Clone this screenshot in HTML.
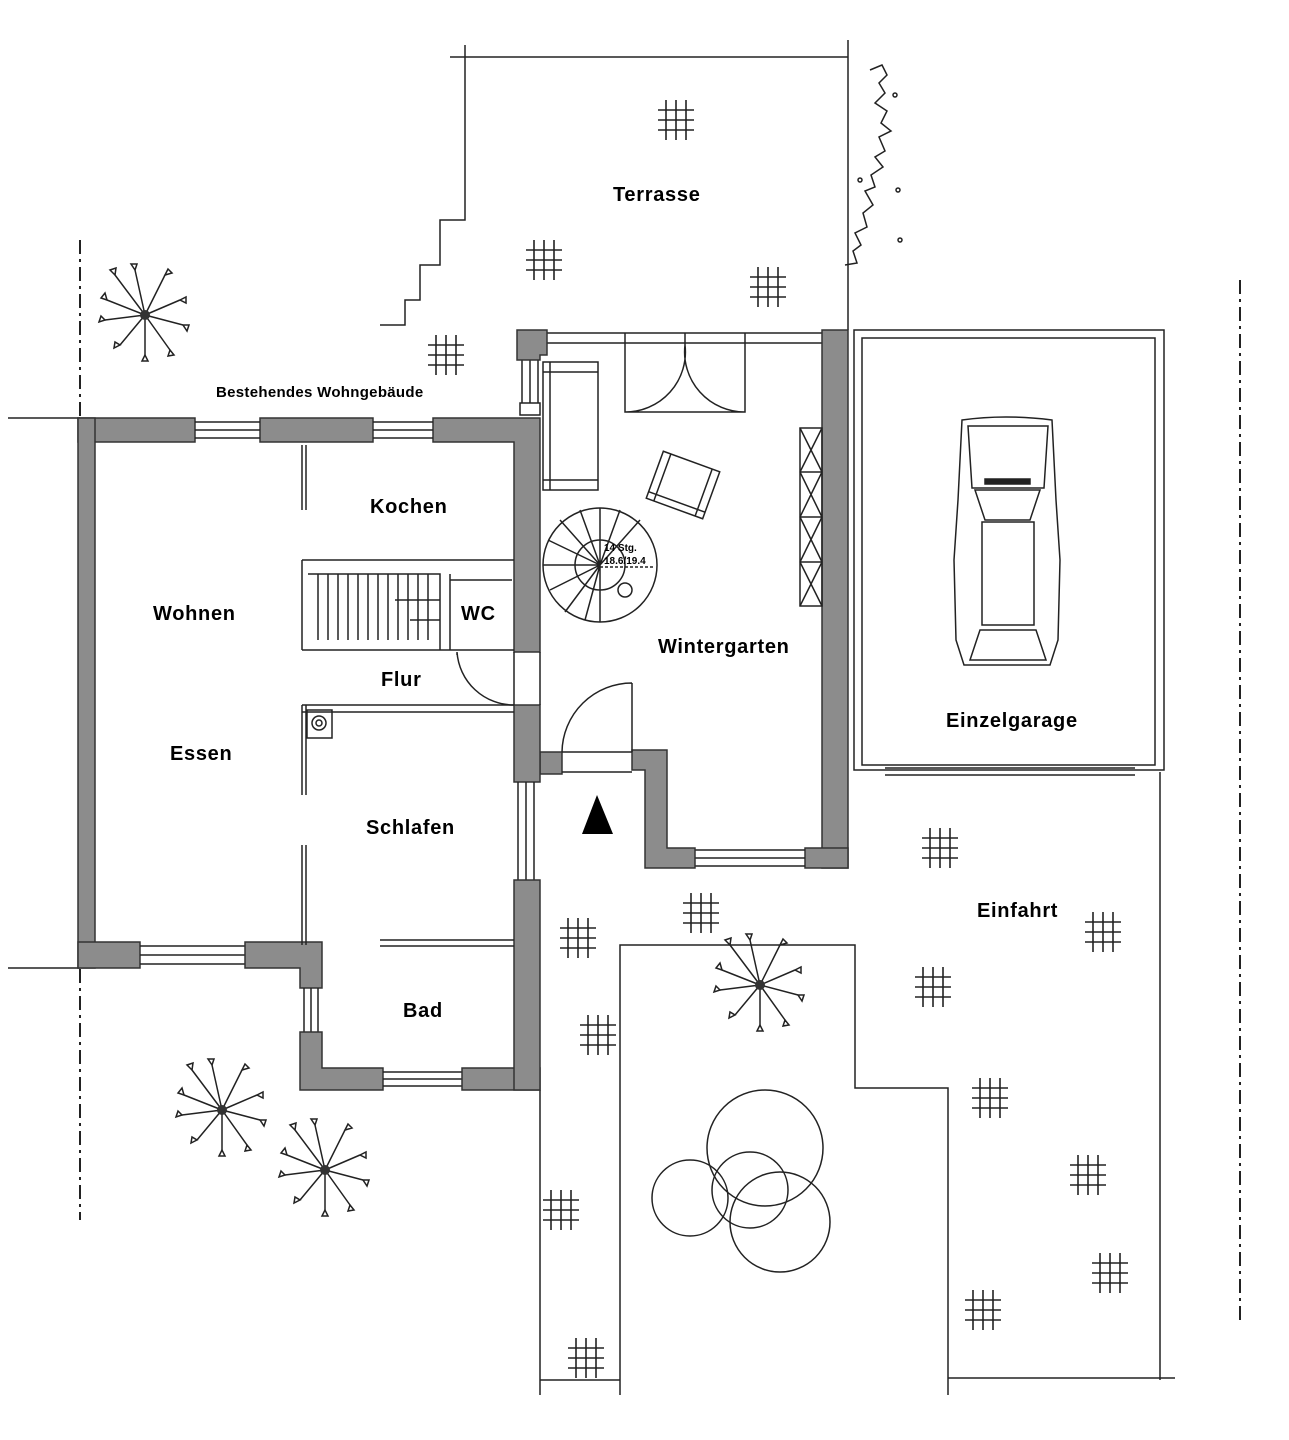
<!DOCTYPE html>
<html><head><meta charset="utf-8"><style>
html,body{margin:0;padding:0;background:#fff;}
svg{display:block}
text{font-family:"Liberation Sans",sans-serif;font-weight:bold;fill:#000;letter-spacing:0.7px}
.w{fill:#8c8c8c;stroke:#333;stroke-width:1.5}
.l{fill:none;stroke:#222;stroke-width:1.5}
.t{fill:none;stroke:#222;stroke-width:1.6}
</style></head><body>
<svg width="1289" height="1440" viewBox="0 0 1289 1440" xmlns="http://www.w3.org/2000/svg">
<defs>
<g id="tile"><path class="t" d="M8 0V40M18 0V40M28 0V40M0 10H36M0 20H36M0 30H36"/></g>
<g id="tree"><path class="l" d="M0 0L-30-40M0 0L-10-45M0 0L20-40M0 0L35-15M0 0L38 10M0 0L25 35M0 0L0 40M0 0L-25 30M0 0L-40 5M0 0L-38-15"/><circle cx="0" cy="0" r="5" fill="#333"/>
<path class="l" d="M-30-40l-5-5 6-2zM-10-45l-4-6 6 0zM20-40l3-6 4 4zM35-15l6-3 0 6zM38 10l6 0-2 6zM25 35l4 5-6 1zM0 40l-3 6 6 0zM-25 30l-6 3 1-6zM-40 5l-6 2 2-6zM-38-15l-6-2 4-5z"/></g>
</defs>

<path d="M80 240V1220" stroke="#222" stroke-width="2" stroke-dasharray="14 5 3 5"/>
<path d="M1240 280V1325" stroke="#222" stroke-width="2" stroke-dasharray="14 5 3 5"/>
<path class="l" d="M8 418H80M8 968H80"/>

<path class="l" d="M450 57H848M848 40V330M465 45V220H440V265H420V300H405V325H380"/>
<path class="l" d="M870 70l12-5 5 10-8 8 6 10-10 10 12 8-6 12 10 8-12 6 6 14-10 6 8 10-12 8 4 12-10 4 8 14-10 8 4 14-12 6 6 12-8 6 4 12-12 2"/>
<circle cx="895" cy="95" r="2" class="l"/><circle cx="898" cy="190" r="2" class="l"/><circle cx="900" cy="240" r="2" class="l"/><circle cx="860" cy="180" r="2" class="l"/>

<rect x="854" y="330" width="310" height="440" class="l" stroke-width="2"/>
<rect x="862" y="338" width="293" height="427" class="l"/>
<path class="l" d="M885 768H1135M885 775H1135"/>
<g class="l">
<path d="M962 420Q1005 414 1052 420L1056 500L1060 560L1058 640L1050 665H964L956 640L954 560L958 500Z"/>
<path d="M968 426H1048L1044 488H972Z"/><path d="M975 490H1040L1030 520H985Z"/>
<path d="M982 522H1034V625H982Z"/><path d="M980 630H1036L1046 660H970Z"/>
<rect x="985" y="479" width="45" height="5" fill="#222"/>
</g>

<path class="l" d="M540 1090V1395M620 1395V945H855V1088H948V1395M948 1378H1175M1160 772V1380M540 1380H620"/>

<path class="l" d="M547 333H822M547 343H822M625 333V345M685 333V345M745 333V345"/>
<path class="l" d="M522 360V403M530 360V403M538 360V403"/>
<rect x="520" y="403" width="20" height="12" class="l"/>
<path class="w" d="M517 330H547V355H540V360H517Z"/>
<rect x="822" y="330" width="26" height="538" class="w"/>
<rect x="805" y="848" width="43" height="20" class="w"/>
<path class="l" d="M695 850H805M695 858H805M695 866H805"/>
<path class="w" d="M632 750H667V848H695V868H645V770H632Z"/>
<rect x="540" y="752" width="22" height="22" class="w"/>
<path class="l" d="M562 752H632M562 772H632"/>
<path class="l" d="M632 752V683M632 683A70 70 0 0 0 562 752"/>
<path class="l" d="M625 345V412H685M745 345V412H685M685 345A60 60 0 0 1 625 412M685 345A60 60 0 0 0 745 412"/>
<rect x="543" y="362" width="55" height="128" class="l"/><path class="l" d="M550 362V490M543 372H598M543 480H598"/>
<g transform="translate(683 485) rotate(20)"><rect x="-30" y="-25" width="60" height="50" class="l"/><path class="l" d="M-22-25V25M22-25V25M-30 18H30"/></g>
<rect x="800" y="428" width="22" height="178" class="l"/>
<path class="l" d="M800 428L822 472M822 428L800 472M800 472L822 517M822 472L800 517M800 517L822 562M822 517L800 562M800 562L822 606M822 562L800 606M800 472H822M800 517H822M800 562H822"/>
<circle cx="600" cy="565" r="57" class="l"/><circle cx="600" cy="565" r="25" class="l"/>
<path class="l" d="M600 565L543 565M600 565L548 540M600 565L560 520M600 565L580 510M600 565L600 508M600 565L620 510M600 565L640 520M600 565L550 590M600 565L565 612M600 565L585 620M600 565V622"/>
<path class="l" d="M600 567H655" stroke-dasharray="3 2"/><circle cx="625" cy="590" r="7" class="l"/>
<text x="604" y="551" font-size="10" font-weight="normal" style="letter-spacing:0">14 Stg.</text>
<text x="604" y="564" font-size="10" font-weight="normal" style="letter-spacing:0">18.6/19.4</text>

<rect x="78" y="418" width="117" height="24" class="w"/>
<rect x="260" y="418" width="113" height="24" class="w"/>
<path class="w" d="M433 418H540V652H514V442H433Z"/>
<path class="l" d="M195 422H260M195 430H260M195 438H260M373 422H433M373 430H433M373 438H433"/>
<rect x="78" y="418" width="17" height="550" class="w"/>
<rect x="78" y="942" width="62" height="26" class="w"/>
<path class="l" d="M140 946H245M140 955H245M140 964H245"/>
<path class="w" d="M245 942H322V988H300V968H245Z"/>
<path class="l" d="M304 988V1032M311 988V1032M318 988V1032"/>
<path class="w" d="M300 1032H322V1068H383V1090H300Z"/>
<path class="l" d="M383 1072H462M383 1079H462M383 1086H462"/>
<rect x="462" y="1068" width="78" height="22" class="w"/>
<rect x="514" y="705" width="26" height="77" class="w"/>
<path class="l" d="M518 782V880M526 782V880M534 782V880M514 652V705M540 652V705"/>
<path class="w" d="M514 880H540V1090H514Z"/>

<path class="l" d="M302 445V510M306 445V510M302 560V650M302 560H514M302 650H514M308 574H440V650M395 600H440M410 620H440M450 574V650H514M450 580H512"/>
<path class="l" d="M318 574V640M328 574V640M338 574V640M348 574V640M358 574V640M368 574V640M378 574V640M388 574V640M398 574V640M408 574V640M418 574V640M428 574V640" stroke-width="1"/>
<path class="l" d="M457 652A57 57 0 0 0 514 705M457 652V655"/>
<path class="l" d="M302 705H514M302 712H514M302 705V795M306 705V795M302 845V945M306 845V945M380 940H514M380 946H514"/>
<rect x="307" y="710" width="25" height="28" class="l"/><circle cx="319" cy="723" r="7" class="l"/><circle cx="319" cy="723" r="3" class="l"/>

<path d="M597 795L582 834H613Z" fill="#000"/>

<use href="#tile" x="658" y="100"/><use href="#tile" x="526" y="240"/><use href="#tile" x="750" y="267"/><use href="#tile" x="428" y="335"/>
<use href="#tile" x="922" y="828"/><use href="#tile" x="683" y="893"/><use href="#tile" x="560" y="918"/><use href="#tile" x="1085" y="912"/>
<use href="#tile" x="915" y="967"/><use href="#tile" x="580" y="1015"/><use href="#tile" x="972" y="1078"/><use href="#tile" x="1070" y="1155"/>
<use href="#tile" x="543" y="1190"/><use href="#tile" x="1092" y="1253"/><use href="#tile" x="965" y="1290"/><use href="#tile" x="568" y="1338"/>

<use href="#tree" x="145" y="315"/><use href="#tree" x="760" y="985"/><use href="#tree" x="222" y="1110"/><use href="#tree" x="325" y="1170"/>
<g class="l"><circle cx="765" cy="1148" r="58"/><circle cx="690" cy="1198" r="38"/><circle cx="780" cy="1222" r="50"/><circle cx="750" cy="1190" r="38"/></g>

<text x="216" y="397" font-size="15" style="letter-spacing:0.3px">Bestehendes Wohngebäude</text>
<text x="613" y="201" font-size="20">Terrasse</text>
<text x="370" y="513" font-size="20">Kochen</text>
<text x="153" y="620" font-size="20">Wohnen</text>
<text x="461" y="620" font-size="20">WC</text>
<text x="381" y="686" font-size="20">Flur</text>
<text x="170" y="760" font-size="20">Essen</text>
<text x="366" y="834" font-size="20">Schlafen</text>
<text x="403" y="1017" font-size="20">Bad</text>
<text x="658" y="653" font-size="20">Wintergarten</text>
<text x="946" y="727" font-size="20">Einzelgarage</text>
<text x="977" y="917" font-size="20">Einfahrt</text>
</svg>
</body></html>
